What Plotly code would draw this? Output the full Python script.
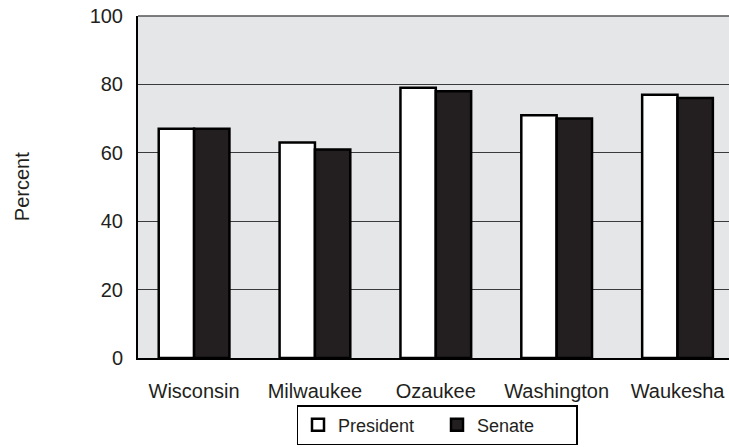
import plotly.graph_objects as go

categories = ["Wisconsin", "Milwaukee", "Ozaukee", "Washington", "Waukesha"]
president = [67, 63, 79, 71, 77]
senate = [67, 61, 78, 70, 76]
y_ticks = [0, 20, 40, 60, 80, 100]

FONT = "Liberation Sans, Arial, Helvetica, sans-serif"
TXT = "#231f20"

fig = go.Figure()
fig.add_trace(go.Bar(
    x=categories, y=president, name="President",
    marker=dict(color="white", line=dict(color="black", width=2.5)),
))
fig.add_trace(go.Bar(
    x=categories, y=senate, name="Senate",
    marker=dict(color="#231f20", line=dict(color="black", width=2.5)),
))

fig.update_layout(
    width=729, height=447,
    margin=dict(l=138, r=0, t=16, b=89, autoexpand=False),
    paper_bgcolor="white",
    plot_bgcolor="#e5e6e8",
    barmode="group",
    bargap=0.415,
    bargroupgap=0,
    font=dict(family=FONT, size=20, color=TXT),
    showlegend=True,
    legend=dict(
        orientation="h",
        xref="container", yref="container",
        x=437 / 729, xanchor="center",
        y=1 - 405 / 447, yanchor="top",
        bordercolor="black", borderwidth=1.5,
        bgcolor="white",
        font=dict(family=FONT, size=18, color=TXT),
        entrywidth=94,
        traceorder="normal",
    ),
    xaxis=dict(
        range=[-0.464, 4.426],
        showgrid=False,
        showline=True, linecolor="black", linewidth=2,
        ticks="", ticklabelstandoff=14,
        tickfont=dict(family=FONT, size=20, color=TXT),
    ),
    yaxis=dict(
        range=[0, 100],
        tickvals=y_ticks,
        showgrid=True, gridcolor="#3a3a3a", gridwidth=1,
        zeroline=False,
        showline=True, linecolor="black", linewidth=2,
        ticks="", ticklabelstandoff=9,
        tickfont=dict(family=FONT, size=20, color=TXT),
    ),
    shapes=[dict(type="line", xref="paper", yref="paper", x0=0, x1=1, y0=1, y1=1,
                 line=dict(color="#555555", width=1.5))],
    annotations=[dict(text="Percent", xref="paper", yref="paper",
                      x=-0.196, y=0.5, xanchor="center", yanchor="middle",
                      textangle=-90, showarrow=False,
                      font=dict(family=FONT, size=20, color=TXT))],
)

fig.write_html("out.html", config={"displayModeBar": False},
               post_script="document.body.style.margin='0';")
